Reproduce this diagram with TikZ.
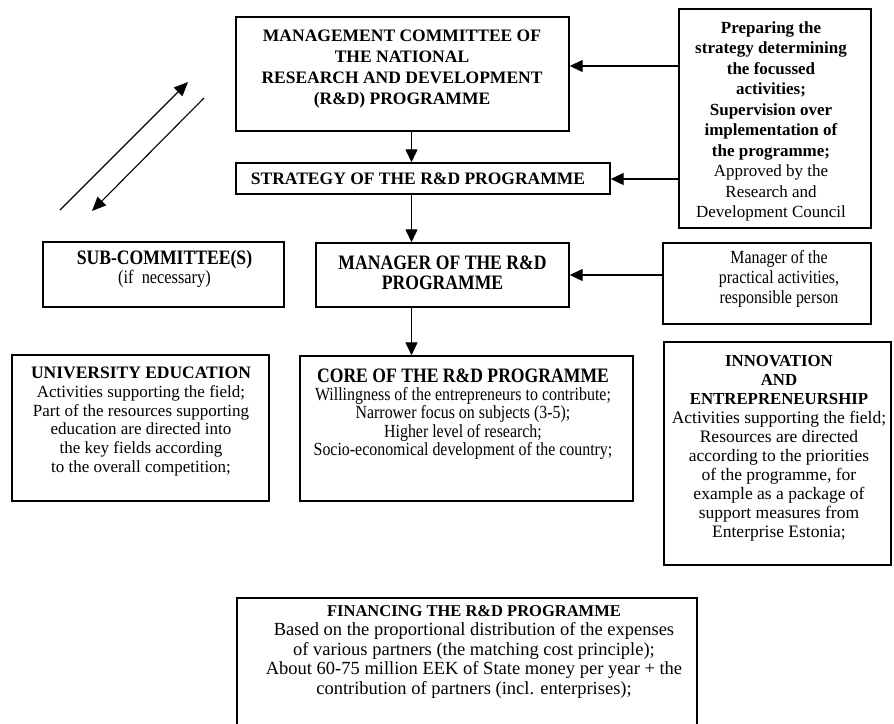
\documentclass[tikz,border=0pt]{standalone}
\usepackage{fontspec}
\setmainfont{Liberation Serif}
\newfontfamily\cond{Liberation Serif}[FakeStretch=0.86]
\usetikzlibrary{arrows.meta}
\begin{document}
\begin{tikzpicture}[x=1pt,y=-1pt,
  box/.style={draw, line width=1.4pt, inner sep=0pt},
  txt/.style={align=center, inner sep=0pt},
  arr/.style={line width=1.3pt, -{Triangle[length=13pt,width=12pt]}},
  thin arr/.style={line width=1.1pt, -{Triangle[length=14pt,width=12pt]}}
]
\useasboundingbox[fill=white] (0,0) rectangle (894,723);
\clip (0,0) rectangle (894,723);

% boxes
\node[box, minimum width=333pt, minimum height=114pt] (mgmt) at (402.5,74) {};
\node[box, minimum width=374pt, minimum height=31pt] (strat) at (423,178.5) {};
\node[box, minimum width=192pt, minimum height=219pt] (prep) at (775,118.5) {};
\node[box, minimum width=241pt, minimum height=65pt] (sub) at (163.5,274.5) {};
\node[box, minimum width=253pt, minimum height=64pt] (manager) at (442.5,275) {};
\node[box, minimum width=208pt, minimum height=81pt] (practical) at (767,283.5) {};
\node[box, minimum width=257pt, minimum height=146pt] (univ) at (140.5,428) {};
\node[box, minimum width=333pt, minimum height=145pt] (core) at (466.5,428.5) {};
\node[box, minimum width=227pt, minimum height=223pt] (innov) at (777.5,453.5) {};
\node[box, minimum width=460pt, minimum height=160pt] (fin) at (467,678) {};

% texts
\node[txt, font=\fontsize{17.5}{21}\selectfont\bfseries] (mgmtT) at (402,69.5)
  {MANAGEMENT COMMITTEE OF\\THE NATIONAL\\RESEARCH AND DEVELOPMENT\\(R\&D) PROGRAMME};
\node[txt, font=\fontsize{17.5}{21}\selectfont\bfseries] (stratT) at (418,178.5)
  {STRATEGY OF THE R\&D PROGRAMME};
\node[txt, font=\fontsize{17}{20.5}\selectfont] (prepT) at (771,121.5)
  {\textbf{Preparing the}\\\textbf{strategy determining}\\\textbf{the focussed}\\\textbf{activities;}\\
   \textbf{Supervision over}\\\textbf{implementation of}\\\textbf{the programme;}\\
   Approved by the\\Research and\\Development Council};
\node[txt, font=\cond\fontsize{19}{19}\selectfont] (subT) at (164.5,268.5)
  {{\fontsize{20.5}{19}\selectfont\bfseries SUB-COMMITTEE(S)}\\(if\ \ necessary)};
\node[txt, font=\cond\fontsize{20.5}{20}\selectfont\bfseries] (managerT) at (442.5,273)
  {MANAGER OF THE R\&D\\PROGRAMME};
\node[txt, font=\cond\fontsize{18.5}{20}\selectfont] (practicalT) at (779,279)
  {Manager of the\\practical activities,\\responsible person};
\node[txt, font=\fontsize{17}{18.8}\selectfont] (univT) at (141,421.5)
  {{\fontsize{17.5}{18.8}\selectfont\bfseries UNIVERSITY EDUCATION}\\Activities supporting the field;\\
   Part of the resources supporting\\education are directed into\\the key fields according\\to the overall competition;};
\node[txt, font=\cond\fontsize{18.5}{18.2}\selectfont] (coreT) at (463,414)
  {{\fontsize{20.5}{18.2}\selectfont\bfseries CORE OF THE R\&D PROGRAMME}\\Willingness of the entrepreneurs to contribute;\\
   Narrower focus on subjects (3-5);\\Higher level of research;\\Socio-economical development of the country;};
\node[txt, font=\fontsize{17.5}{19}\selectfont] (innovT) at (779,448.5)
  {{\fontsize{16.8}{19}\selectfont\bfseries INNOVATION}\\{\fontsize{16.8}{19}\selectfont\bfseries AND}\\
   {\fontsize{16.8}{19}\selectfont\bfseries ENTREPRENEURSHIP}\\Activities supporting the field;\\Resources are directed\\
   according to the priorities\\of the programme, for\\example as a package of\\support measures from\\Enterprise Estonia;};
\node[txt, font=\fontsize{18.5}{19.5}\selectfont] (finT) at (474,651.5)
  {{\fontsize{16.5}{19.5}\selectfont\bfseries FINANCING THE R\&D PROGRAMME}\\
   Based on the proportional distribution of the expenses\\of various partners (the matching cost principle);\\
   About 60-75 million EEK of State money per year + the\\contribution of partners (incl. enterprises);};

% spine coordinate for vertical arrows
\coordinate (spine) at (411.5,0);
\draw[arr] (mgmt.south -| spine) -- (strat.north -| spine);
\draw[arr] (strat.south -| spine) -- (manager.north -| spine);
\draw[arr] (manager.south -| spine) -- (core.north -| spine);

% horizontal arrows from right boxes
\coordinate (rowA) at (0,66);
\coordinate (rowB) at (0,179);
\coordinate (rowC) at (0,275);
\draw[arr] (prep.west |- rowA) -- (mgmt.east |- rowA);
\draw[arr] (prep.west |- rowB) -- (strat.east |- rowB);
\draw[arr] (practical.west |- rowC) -- (manager.east |- rowC);

% diagonal arrows
\coordinate (d1s) at (60,210);
\coordinate (d1e) at (188,82);
\coordinate (d2s) at (204,98);
\coordinate (d2e) at (92,211);
\draw[thin arr] (d1s) -- (d1e);
\draw[thin arr] (d2s) -- (d2e);
\end{tikzpicture}
\end{document}
